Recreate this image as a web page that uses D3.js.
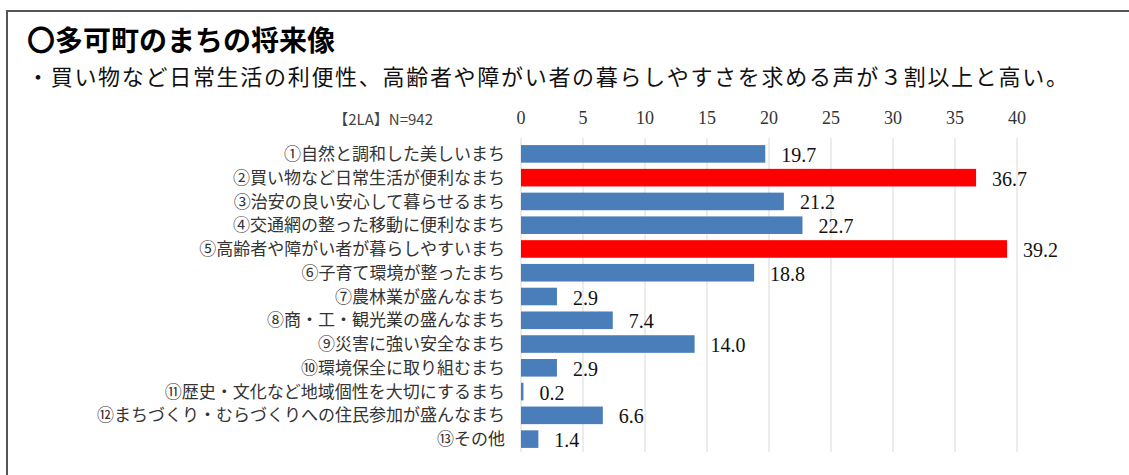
<!DOCTYPE html>
<html>
<head>
<meta charset="utf-8">
<script src="https://cdn.jsdelivr.net/npm/d3@7"></script>
<style>
  body { margin: 0; background: #fff; }
  svg { display: block; }
</style>
</head>
<body>
<div id="chart"></div>
<script>
// データ
const categories = [
  "①自然と調和した美しいまち",
  "②買い物など日常生活が便利なまち",
  "③治安の良い安心して暮らせるまち",
  "④交通網の整った移動に便利なまち",
  "⑤高齢者や障がい者が暮らしやすいまち",
  "⑥子育て環境が整ったまち",
  "⑦農林業が盛んなまち",
  "⑧商・工・観光業の盛んなまち",
  "⑨災害に強い安全なまち",
  "⑩環境保全に取り組むまち",
  "⑪歴史・文化など地域個性を大切にするまち",
  "⑫まちづくり・むらづくりへの住民参加が盛んなまち",
  "⑬その他"
];
const values = [19.7, 36.7, 21.2, 22.7, 39.2, 18.8, 2.9, 7.4, 14.0, 2.9, 0.2, 6.6, 1.4];
const highlighted = [false, true, false, false, true, false, false, false, false, false, false, false, false];
const tickValues = [0, 5, 10, 15, 20, 25, 30, 35, 40];

const W = 1129, H = 475;
const sans = "'Noto Sans CJK JP', 'Noto Sans', sans-serif";
const serif = "'Liberation Serif', 'DejaVu Serif', serif";

const svg = d3.select("#chart").append("svg")
  .attr("width", W)
  .attr("height", H);

// 枠線
svg.append("path")
  .attr("d", `M7,${H} V11 H${W}`)
  .attr("fill", "none")
  .attr("stroke", "#555")
  .attr("stroke-width", 2);

// 見出し
svg.append("text")
  .attr("x", 27).attr("y", 51)
  .text("〇多可町のまちの将来像")
  .style("font-family", sans)
  .style("font-size", "28px")
  .style("font-weight", "bold")
  .style("fill", "#000");

svg.append("text")
  .attr("x", 27).attr("y", 85)
  .text("・買い物など日常生活の利便性、高齢者や障がい者の暮らしやすさを求める声が３割以上と高い。")
  .style("font-family", sans)
  .style("font-size", "22px")
  .style("letter-spacing", "1.7px")
  .style("fill", "#111");

// スケール
const x = d3.scaleLinear().domain([0, 40]).range([521, 1017]);
const y = d3.scaleBand().domain(categories).range([142, 451]).paddingInner(0.26).paddingOuter(0.13);

// 目盛りラベルとグリッド
svg.append("g")
  .selectAll("line")
  .data(tickValues)
  .enter().append("line")
  .attr("x1", d => x(d)).attr("x2", d => x(d))
  .attr("y1", 138).attr("y2", 452)
  .attr("stroke", "#d9d9d9")
  .attr("stroke-width", 1);

svg.append("g")
  .selectAll("text")
  .data(tickValues)
  .enter().append("text")
  .attr("x", d => x(d))
  .attr("y", 124)
  .attr("text-anchor", "middle")
  .text(d => d)
  .style("font-family", serif)
  .style("font-size", "18px")
  .style("fill", "#333");

svg.append("text")
  .attr("x", 433).attr("y", 125)
  .attr("text-anchor", "end")
  .text("【2LA】N=942")
  .style("font-family", sans)
  .style("font-size", "15px")
  .style("fill", "#444");

// 項目ラベル
svg.append("g")
  .selectAll("text")
  .data(categories)
  .enter().append("text")
  .attr("x", 505)
  .attr("y", d => y(d) + y.bandwidth() / 2)
  .attr("dy", "0.36em")
  .attr("text-anchor", "end")
  .text(d => d)
  .style("font-family", sans)
  .style("font-size", "17px")
  .style("fill", "#333");

// 棒
svg.append("g")
  .selectAll("rect")
  .data(values)
  .enter().append("rect")
  .attr("x", x(0))
  .attr("y", (d, i) => y(categories[i]))
  .attr("width", d => x(d) - x(0))
  .attr("height", y.bandwidth())
  .attr("fill", (d, i) => highlighted[i] ? "#ff0000" : "#4a7ebb");

// 数値ラベル
svg.append("g")
  .selectAll("text")
  .data(values)
  .enter().append("text")
  .attr("x", d => x(d) + 16)
  .attr("y", (d, i) => y(categories[i]) + y.bandwidth() / 2 + 8)
  .text(d => d.toFixed(1))
  .style("font-family", serif)
  .style("font-size", "20px")
  .style("fill", "#111");
</script>
</body>
</html>
